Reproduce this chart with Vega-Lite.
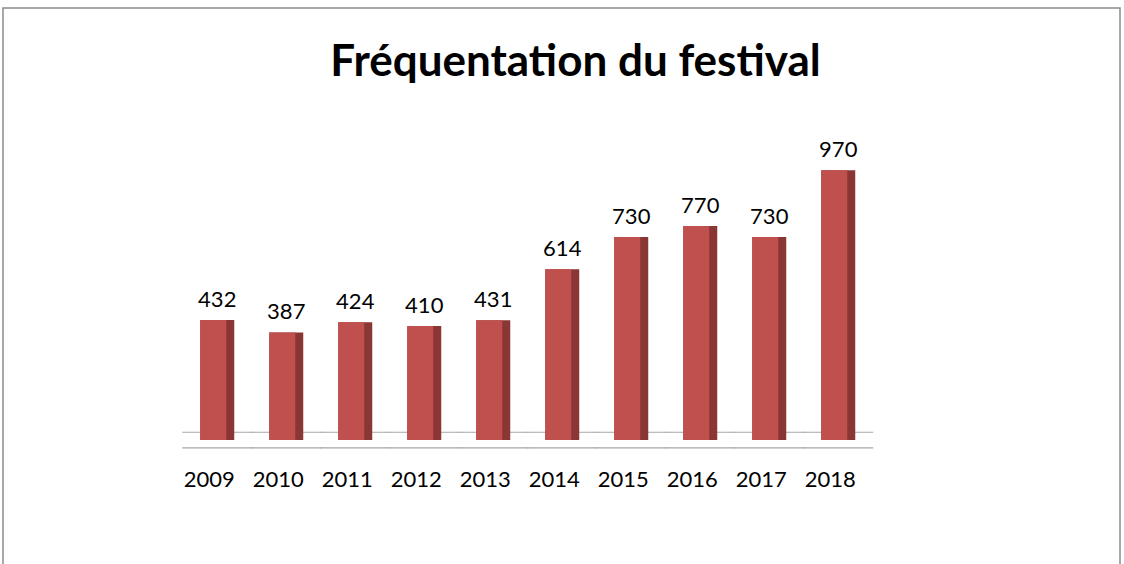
{
  "$schema": "https://vega.github.io/schema/vega-lite/v6.json",
  "autosize": "none",
  "width": 1117,
  "height": 600,
  "padding": {"left": 3, "top": 8, "right": 4, "bottom": 0},
  "background": "white",
  "config": {
    "view": {"stroke": "#8c8c8c", "strokeWidth": 1.5},
    "font": "Lato"
  },
  "title": {
    "text": "Fréquentation du festival",
    "font": "Lato",
    "fontSize": 44,
    "fontWeight": "bold",
    "color": "#000000",
    "anchor": "middle",
    "baseline": "alphabetic",
    "offset": -112,
    "dx": 14
  },
  "data": {
    "values": [
      {"annee": "2009", "visiteurs": 432},
      {"annee": "2010", "visiteurs": 387},
      {"annee": "2011", "visiteurs": 424},
      {"annee": "2012", "visiteurs": 410},
      {"annee": "2013", "visiteurs": 431},
      {"annee": "2014", "visiteurs": 614},
      {"annee": "2015", "visiteurs": 730},
      {"annee": "2016", "visiteurs": 770},
      {"annee": "2017", "visiteurs": 730},
      {"annee": "2018", "visiteurs": 970}
    ]
  },
  "encoding": {
    "x": {
      "field": "annee",
      "type": "nominal",
      "sort": null,
      "axis": null,
      "scale": {"type": "band", "range": [197, 852.5], "paddingInner": 0.5, "paddingOuter": 0}
    }
  },
  "layer": [
    {
      "mark": {"type": "bar", "color": "#a6a6a6", "width": 70},
      "encoding": {
        "y": {"datum": 30, "type": "quantitative", "axis": null, "scale": {"domain": [-604, 1554], "zero": false, "nice": false}},
        "y2": {"datum": 26}
      }
    },
    {
      "mark": {"type": "bar", "color": "#a6a6a6", "width": 70},
      "encoding": {
        "y": {"datum": -26, "type": "quantitative"},
        "y2": {"datum": -30}
      }
    },
    {
      "mark": {"type": "bar", "color": "#8a3634", "width": 34},
      "encoding": {
        "y": {"field": "visiteurs", "type": "quantitative"}
      }
    },
    {
      "mark": {"type": "bar", "color": "#c0504d", "width": 26, "xOffset": -4},
      "encoding": {
        "y": {"field": "visiteurs", "type": "quantitative"}
      }
    },
    {
      "mark": {"type": "text", "fontSize": 22, "color": "#000000", "baseline": "bottom", "dy": -8},
      "encoding": {
        "y": {"field": "visiteurs", "type": "quantitative"},
        "text": {"field": "visiteurs", "type": "quantitative"}
      }
    },
    {
      "mark": {"type": "text", "fontSize": 22, "color": "#000000", "baseline": "top", "dy": 30, "dx": -8},
      "encoding": {
        "y": {"datum": 0, "type": "quantitative"},
        "text": {"field": "annee", "type": "nominal"}
      }
    }
  ]
}
